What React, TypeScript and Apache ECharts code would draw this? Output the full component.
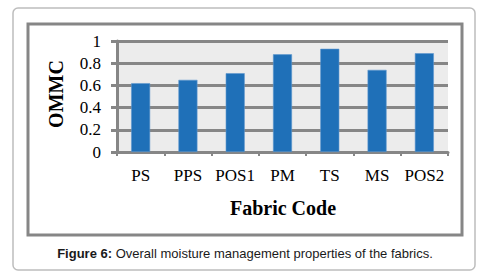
import React, { useEffect, useRef } from "react";
import * as echarts from "echarts";

const categories = ["PS", "PPS", "POS1", "PM", "TS", "MS", "POS2"];
const ommcValues = [0.62, 0.65, 0.71, 0.88, 0.93, 0.74, 0.89];
const yAxisTitle = "OMMC";
const xAxisTitle = "Fabric Code";
const captionBold = "Figure 6:";
const captionText = " Overall moisture management properties of the fabrics.";

export default function App() {
  const ref = useRef<HTMLDivElement>(null);
  useEffect(() => {
    if (!ref.current) return;
    const chart = echarts.init(ref.current, null, { renderer: "svg" });
    const serif = "'Liberation Serif', 'Times New Roman', serif";
    chart.setOption({
      animation: false,
      backgroundColor: "#ffffff",
      grid: {
        left: 117,
        right: 48,
        top: 41,
        bottom: 128,
        show: true,
        backgroundColor: "#ececec",
        borderWidth: 0,
      },
      xAxis: {
        type: "category",
        data: categories,
        axisLine: { show: true, lineStyle: { color: "#868686", width: 3 } },
        axisTick: { show: true, length: 4, lineStyle: { color: "#868686", width: 2 } },
        axisLabel: { fontFamily: serif, fontSize: 17, color: "#000", margin: 15, interval: 0, hideOverlap: false },
      },
      yAxis: {
        type: "value",
        min: 0,
        max: 1,
        interval: 0.2,
        axisLine: { show: true, lineStyle: { color: "#868686", width: 3 } },
        axisTick: { show: true, length: 6, lineStyle: { color: "#868686", width: 3 } },
        splitLine: { show: true, lineStyle: { color: "#868686", width: 3 } },
        axisLabel: { fontFamily: serif, fontSize: 17, color: "#000", margin: 16 },
      },
      series: [
        {
          type: "bar",
          data: ommcValues,
          barWidth: 19,
          itemStyle: { color: "#1f70b8", borderColor: "#5f97cf", borderWidth: 0.6 },
        },
      ],
      graphic: [
        {
          type: "rect",
          shape: { x: 13, y: 8, width: 462, height: 262, r: 5 },
          style: { fill: "none", stroke: "#bdbdbd", lineWidth: 1.5 },
          z: -10,
        },
        {
          type: "rect",
          shape: { x: 28, y: 24, width: 434, height: 211 },
          style: { fill: "none", stroke: "#868686", lineWidth: 3 },
          z: -5,
        },
        {
          type: "text",
          x: 56,
          y: 94,
          rotation: Math.PI / 2,
          style: {
            text: yAxisTitle,
            font: "bold 20px " + serif,
            fill: "#000",
            textAlign: "center",
            textVerticalAlign: "middle",
          },
        },
        {
          type: "text",
          x: 283,
          y: 208,
          style: {
            text: xAxisTitle,
            font: "bold 20px " + serif,
            fill: "#000",
            textAlign: "center",
            textVerticalAlign: "middle",
          },
        },
        {
          type: "text",
          x: 245,
          y: 253,
          style: {
            text: "{b|" + captionBold + "}{n|" + captionText + "}",
            textAlign: "center",
            textVerticalAlign: "middle",
            rich: {
              b: { fontFamily: "'Liberation Sans', Arial, sans-serif", fontWeight: "bold", fontSize: 13, fill: "#1a1a1a" },
              n: { fontFamily: "'Liberation Sans', Arial, sans-serif", fontSize: 13, fill: "#1a1a1a" },
            },
          },
        },
      ],
    });
    return () => chart.dispose();
  }, []);
  return (
    <div
      ref={ref}
      style={{ position: "fixed", left: 0, top: 0, width: 496, height: 280 }}
    />
  );
}
